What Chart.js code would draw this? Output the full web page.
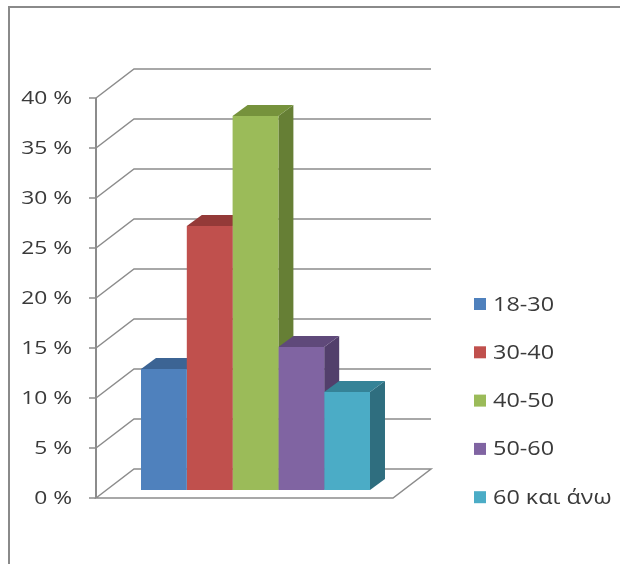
<!DOCTYPE html>
<html lang="el">
<head>
<meta charset="UTF-8">
<title>Ηλικίες</title>
<script src="https://cdn.jsdelivr.net/npm/chart.js"></script>
<style>
  html, body { margin: 0; padding: 0; background: #fff; }
  #wrap { width: 620px; height: 564px; position: relative; }
</style>
</head>
<body>
<div id="wrap"><canvas id="chart"></canvas></div>
<script>
// age groups and share of respondents (%)
const groups = ['18-30', '30-40', '40-50', '50-60', '60 και άνω'];
const shares = [12.1, 26.4, 37.4, 14.3, 9.8];
const yTicks = [0, 5, 10, 15, 20, 25, 30, 35, 40];

const fronts = ['#4F81BD', '#C0504D', '#9BBB59', '#8064A2', '#4BACC6'];
const tops   = ['#3C6494', '#943A38', '#76923C', '#5F497A', '#358397'];
const sides  = ['#2F4F78', '#7A2F2D', '#667F35', '#523F6B', '#2F6E7F'];

const FONT = '"Open Sans", "Noto Sans", sans-serif';
const GRID = '#8c8c8c';
// 3d frame offsets (front plane / back plane relative to the bar plane)
const FRONT = { dx: -11, dy: 8 };
const BACK  = { dx: 27, dy: -21 };
const BAR_DEPTH = { dx: 15, dy: -11 };

// the original text is a bit wider than Open Sans, stretch it a little
function wideText(ctx, txt, x, y, sx) {
  ctx.save();
  ctx.translate(x, y);
  ctx.scale(sx, 1);
  ctx.fillText(txt, 0, 0);
  ctx.restore();
}

const frame3d = {
  id: 'frame3d',
  beforeDraw(chart) {
    const ctx = chart.ctx;
    ctx.save();
    ctx.fillStyle = '#fff';
    ctx.fillRect(0, 0, chart.width, chart.height);
    // outer border
    ctx.strokeStyle = '#8a8a8a';
    ctx.lineWidth = 2;
    ctx.beginPath();
    ctx.moveTo(9, chart.height);
    ctx.lineTo(9, 7);
    ctx.lineTo(chart.width, 7);
    ctx.stroke();
    ctx.restore();
  },
  beforeDatasetsDraw(chart) {
    const ctx = chart.ctx;
    const y = chart.scales.y;
    const a = chart.chartArea;
    const fl = a.left + FRONT.dx, fr = a.right + FRONT.dx;
    const bl = a.left + BACK.dx, br = a.right + BACK.dx;
    ctx.save();
    ctx.strokeStyle = GRID;
    ctx.lineWidth = 1.5;
    yTicks.forEach(v => {
      const p = y.getPixelForValue(v);
      ctx.beginPath();
      ctx.moveTo(fl, p + FRONT.dy);
      ctx.lineTo(bl, p + BACK.dy);
      ctx.lineTo(br, p + BACK.dy);
      if (v === 0) {
        ctx.lineTo(fr, p + FRONT.dy);
        ctx.closePath();
      }
      ctx.stroke();
      // tick mark
      ctx.beginPath();
      ctx.moveTo(fl - 7, p + FRONT.dy);
      ctx.lineTo(fl, p + FRONT.dy);
      ctx.stroke();
    });
    // y axis line
    ctx.lineWidth = 2;
    ctx.beginPath();
    ctx.moveTo(fl, y.getPixelForValue(40) + FRONT.dy);
    ctx.lineTo(fl, y.getPixelForValue(0) + FRONT.dy);
    ctx.stroke();
    // axis labels
    ctx.fillStyle = '#3a3a3a';
    ctx.font = '19px ' + FONT;
    ctx.textAlign = 'right';
    ctx.textBaseline = 'middle';
    yTicks.forEach(v => {
      wideText(ctx, v + ' %', fl - 24, y.getPixelForValue(v) + FRONT.dy + 1, 1.2);
    });

    // bar sides then tops, fronts come from chart.js
    const bars = chart.data.datasets.map((d, i) => chart.getDatasetMeta(i).data[0]);
    const dx = BAR_DEPTH.dx, dy = BAR_DEPTH.dy;
    bars.forEach((b, i) => {
      const r = b.x + b.width / 2;
      ctx.fillStyle = sides[i];
      ctx.beginPath();
      ctx.moveTo(r, b.y);
      ctx.lineTo(r + dx, b.y + dy);
      ctx.lineTo(r + dx, b.base + dy);
      ctx.lineTo(r, b.base);
      ctx.closePath();
      ctx.fill();
    });
    bars.forEach((b, i) => {
      const l = b.x - b.width / 2, r = b.x + b.width / 2;
      ctx.fillStyle = tops[i];
      ctx.beginPath();
      ctx.moveTo(l, b.y);
      ctx.lineTo(l + dx, b.y + dy);
      ctx.lineTo(r + dx, b.y + dy);
      ctx.lineTo(r, b.y);
      ctx.closePath();
      ctx.fill();
    });
    ctx.restore();
  },
  afterDraw(chart) {
    // legend on the right
    const ctx = chart.ctx;
    ctx.save();
    ctx.font = '19.5px ' + FONT;
    ctx.textBaseline = 'middle';
    ctx.textAlign = 'left';
    groups.forEach((g, i) => {
      const cy = 304 + i * 48.3;
      ctx.fillStyle = fronts[i];
      ctx.fillRect(474, cy - 6, 12, 12);
      ctx.fillStyle = '#3a3a3a';
      wideText(ctx, g, 493, cy + 1, 1.2);
    });
    ctx.restore();
  }
};

new Chart(document.getElementById('chart'), {
  type: 'bar',
  data: {
    labels: [''],
    datasets: groups.map((g, i) => ({
      label: g,
      data: [shares[i]],
      backgroundColor: fronts[i],
      borderWidth: 0
    }))
  },
  options: {
    responsive: true,
    maintainAspectRatio: false,
    animation: false,
    layout: { padding: { left: 107, right: 216, top: 90, bottom: 74 } },
    datasets: { bar: { categoryPercentage: 0.771, barPercentage: 1 } },
    scales: {
      x: { display: false },
      y: { display: false, min: 0, max: 40 }
    },
    plugins: {
      legend: { display: false },
      tooltip: { enabled: false }
    }
  },
  plugins: [frame3d]
});
</script>
</body>
</html>
